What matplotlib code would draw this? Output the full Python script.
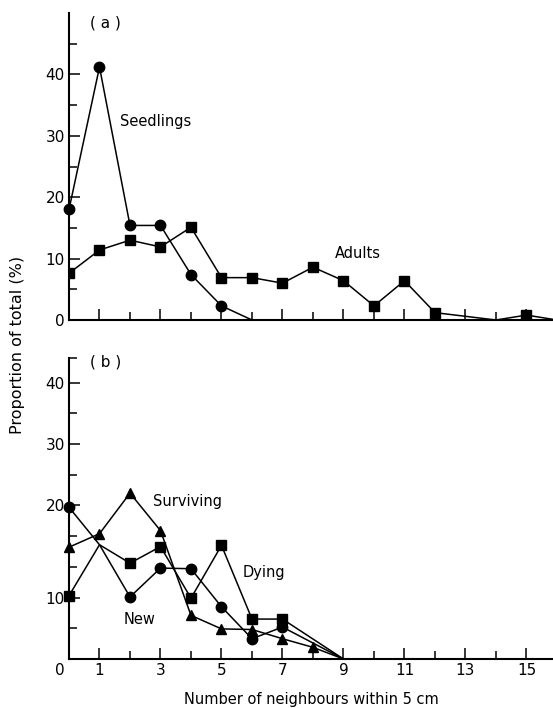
import matplotlib.pyplot as plt
import matplotlib.transforms as mtransforms

#panel (a): seedlings and adults
seedling_x = [0, 1, 2, 3, 4, 5, 6]
seedling_y = [18.0, 41.2, 15.4, 15.4, 7.4, 2.3, 0]
adult_x = [0, 1, 2, 3, 4, 5, 6, 7, 8, 9, 10, 11, 12, 14, 15, 16]
adult_y = [7.6, 11.4, 13.0, 11.9, 15.1, 6.9, 6.9, 6.0, 8.6, 6.4, 2.3, 6.4, 1.2, 0, 0.8, 0]

new_x = [0, 1, 2, 3, 4, 5, 6, 7, 9]
new_y = [24.7, 18.6, 10.1, 14.8, 14.7, 8.5, 3.3, 5.2, 0]
dying_x = [0, 1, 2, 3, 4, 5, 6, 7, 9]
dying_y = [10.3, 18.6, 15.6, 18.3, 9.9, 18.5, 6.5, 6.5, 0]
surv_x = [0, 1, 2, 3, 4, 5, 6, 7, 8, 9]
surv_y = [18.2, 20.4, 27.0, 20.9, 7.1, 4.9, 4.8, 3.3, 1.9, 0]

x_ticks = [0, 1, 3, 5, 7, 9, 11, 13, 15]
x_labels = ["0", "1", "3", "5", "7", "9", "11", "13", "15"]

plt.rcParams["font.family"] = ["DejaVu Sans"]
plt.rcParams["font.size"] = 11

fig = plt.figure(figsize=(5.53, 7.08), dpi=100)
ax_a = fig.add_axes([69/553, 1 - 320/708, 1 - 69/553, 307/708])
ax_b = fig.add_axes([69/553, 1 - 659/708, 1 - 69/553, 301/708])

def style_axis(ax, top):
    ax.set_xlim(0, 15.87)
    ax.set_ylim(0, top)
    for side in ["top", "right"]:
        ax.spines[side].set_visible(False)
    for side in ["left", "bottom"]:
        ax.spines[side].set_linewidth(1.5)
    ax.set_xticks(range(1, 16, 2))
    ax.set_xticks(range(2, 16, 2), minor=True)
    ax.tick_params(which="both", direction="in", width=1.1, pad=3)
    ax.tick_params(which="major", length=8)
    ax.tick_params(which="minor", length=5.5)

style_axis(ax_a, 50)
style_axis(ax_b, 49)

#panel (a)
ax_a.plot(seedling_x, seedling_y, color="black", lw=1.1, marker="o", ms=7.5,
          markevery=[0, 1, 2, 3, 4, 5], clip_on=False, zorder=3)
ax_a.plot(adult_x, adult_y, color="black", lw=1.1, marker="s", ms=6.5,
          markevery=[0, 1, 2, 3, 4, 5, 6, 7, 8, 9, 10, 11, 12, 14], zorder=3)
ax_a.set_xticklabels([])
ax_a.set_yticks([0, 10, 20, 30, 40])
ax_a.set_yticklabels(["0", "10", "20", "30", "40"])
ax_a.set_yticks([5, 15, 25, 35, 45], minor=True)
ax_a.text(1.18, 48.4, "( a )", ha="center", va="center")
ax_a.text(2.85, 32.4, "Seedlings", ha="center", va="center", fontsize=10.5)
ax_a.text(9.48, 10.75, "Adults", ha="center", va="center", fontsize=10.5)

#panel (b)
ax_b.plot(new_x, new_y, color="black", lw=1.1, marker="o", ms=7.5,
          markevery=[0, 2, 3, 4, 5, 6, 7], clip_on=False, zorder=3)
ax_b.plot(dying_x, dying_y, color="black", lw=1.1, marker="s", ms=6.5,
          markevery=[0, 2, 3, 4, 5, 6, 7], clip_on=False, zorder=3)
ax_b.plot(surv_x, surv_y, color="black", lw=1.1, marker="^", ms=7.5,
          markevery=[0, 1, 2, 3, 4, 5, 6, 7, 8], clip_on=False, zorder=3)
ax_b.set_xticks(x_ticks)
ax_b.set_xticklabels(x_labels)
#the "0" sits a little left of the axis in the original
zero_label = ax_b.get_xticklabels()[0]
zero_label.set_transform(zero_label.get_transform() +
                         mtransforms.ScaledTranslation(-9/100, 0, fig.dpi_scale_trans))
#the printed ruler puts 20/30/40 one tick higher than 10
ax_b.set_yticks([10, 25, 35, 45])
ax_b.set_yticklabels(["10", "20", "30", "40"])
ax_b.set_yticks([5, 15, 20, 30, 40, 49], minor=True)
ax_b.text(1.2, 48.4, "( b )", ha="center", va="center")
ax_b.text(3.87, 25.6, "Surviving", ha="center", va="center", fontsize=10.5)
ax_b.text(6.38, 14.0, "Dying", ha="center", va="center", fontsize=10.5)
ax_b.text(2.33, 6.5, "New", ha="center", va="center", fontsize=10.5)
ax_b.set_xlabel("Number of neighbours within 5 cm", fontsize=10.5, labelpad=10)

fig.text(18/553, 1 - 345/708, "Proportion of total (%)", rotation=90,
         ha="center", va="center", fontsize=11.5)

fig.savefig("out.png", dpi=100)
